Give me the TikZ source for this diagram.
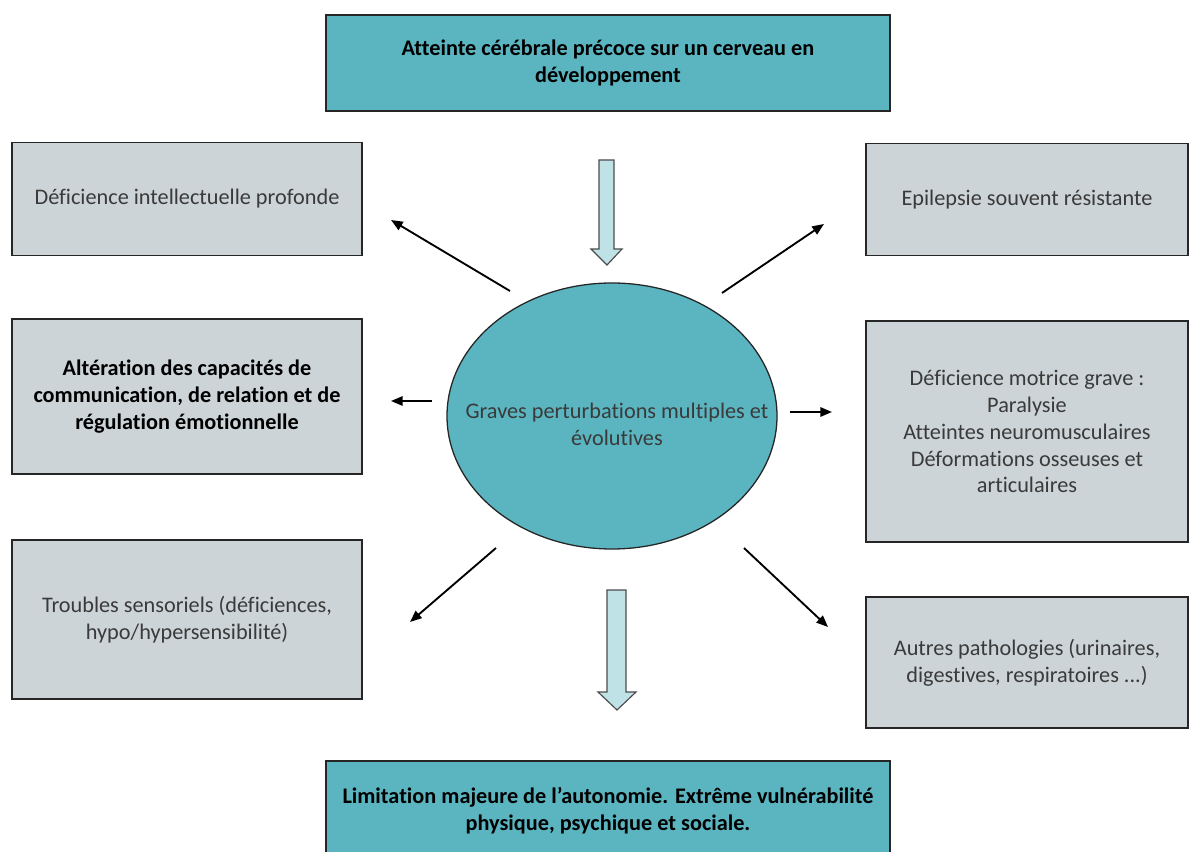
\documentclass[tikz,border=0pt]{standalone}
\usepackage{fontspec}
\setmainfont{Carlito}[RawFeature={-liga;-clig;-dlig}]
\usetikzlibrary{arrows.meta,shapes.geometric}
\definecolor{tealfill}{HTML}{5AB5C1}
\definecolor{greyfill}{HTML}{CCD4D7}
\definecolor{arrowfill}{HTML}{BFE2E7}
\definecolor{textgrey}{HTML}{3A3A3A}
\begin{document}
\begin{tikzpicture}[x=0.03cm,y=-0.03cm,
  basebox/.style={draw=black!85, line width=1.1pt, align=center, inner sep=0pt,
    font=\fontsize{19}{23}\selectfont},
  greybox/.style={basebox, fill=greyfill, text=textgrey},
  tealbox/.style={basebox, fill=tealfill, text=black, font=\bfseries\fontsize{19}{23}\selectfont},
  conn/.style={line width=1.6pt, black, -{Triangle[length=10pt,width=8pt]}},
  blockarrow/.style={draw=black!70, line width=1pt, fill=arrowfill, line join=miter}
]
\useasboundingbox (0,0) rectangle (1190,852);

% top and bottom boxes
\node[tealbox, minimum width=16.92cm, minimum height=2.88cm] (top) at (608,63)
  {Atteinte cérébrale précoce sur un cerveau en\\ développement};
\node[tealbox, minimum width=16.92cm, minimum height=3.0cm] (bottom) at (608,811)
  {Limitation majeure de l’autonomie. Extrême vulnérabilité\\ physique, psychique et sociale.};

% left boxes
\node[greybox, minimum width=10.5cm, minimum height=3.39cm] (l1) at (187,199)
  {Déficience intellectuelle profonde};
\node[greybox, font=\bfseries\fontsize{19}{23}\selectfont, text=black,
  minimum width=10.5cm, minimum height=4.65cm] (l2) at (187,396.5)
  {Altération des capacités de\\ communication, de relation et de\\ régulation émotionnelle};
\node[greybox, minimum width=10.5cm, minimum height=4.77cm] (l3) at (187,619.5)
  {Troubles sensoriels (déficiences,\\ hypo/hypersensibilité)};

% right boxes
\node[greybox, minimum width=9.66cm, minimum height=3.36cm] (r1) at (1027,199.5)
  {Epilepsie souvent résistante};
\node[greybox, minimum width=9.66cm, minimum height=6.63cm] (r2) at (1027,431.5)
  {Déficience motrice grave :\\ Paralysie\\ Atteintes neuromusculaires\\ Déformations osseuses et\\ articulaires};
\node[greybox, minimum width=9.66cm, minimum height=3.93cm] (r3) at (1027,662.5)
  {Autres pathologies (urinaires,\\ digestives, respiratoires ...)};

% central ellipse
\node[ellipse, draw=black!85, line width=1.1pt, fill=tealfill,
  minimum width=9.9cm, minimum height=7.98cm, inner sep=0pt] (ell) at (612,416) {};
\node[align=center, text=textgrey, font=\fontsize{19}{23}\selectfont, inner sep=0pt]
  (elltext) at (617,424) {Graves perturbations multiples et\\ évolutives};

% block arrows
\draw[blockarrow] (599,160) -- (614,160) -- (614,249) -- (622,249) -- (607,265)
  -- (591,249) -- (599,249) -- cycle;
\draw[blockarrow] (607,590) -- (626,590) -- (626,692) -- (636,692) -- (617,710)
  -- (598,692) -- (607,692) -- cycle;

% connector end points
\coordinate (s1) at (510,291); \coordinate (e1) at (391,220);
\coordinate (s2) at (722,293); \coordinate (e2) at (824,224);
\coordinate (s3) at (432,401); \coordinate (e3) at (391,401);
\coordinate (s4) at (790,412); \coordinate (e4) at (832,412);
\coordinate (s5) at (496,548); \coordinate (e5) at (410,622);
\coordinate (s6) at (744,548); \coordinate (e6) at (828,627);

\draw[conn] (s1) -- (e1);
\draw[conn] (s2) -- (e2);
\draw[conn] (s3) -- (e3);
\draw[conn] (s4) -- (e4);
\draw[conn] (s5) -- (e5);
\draw[conn] (s6) -- (e6);
\end{tikzpicture}
\end{document}
